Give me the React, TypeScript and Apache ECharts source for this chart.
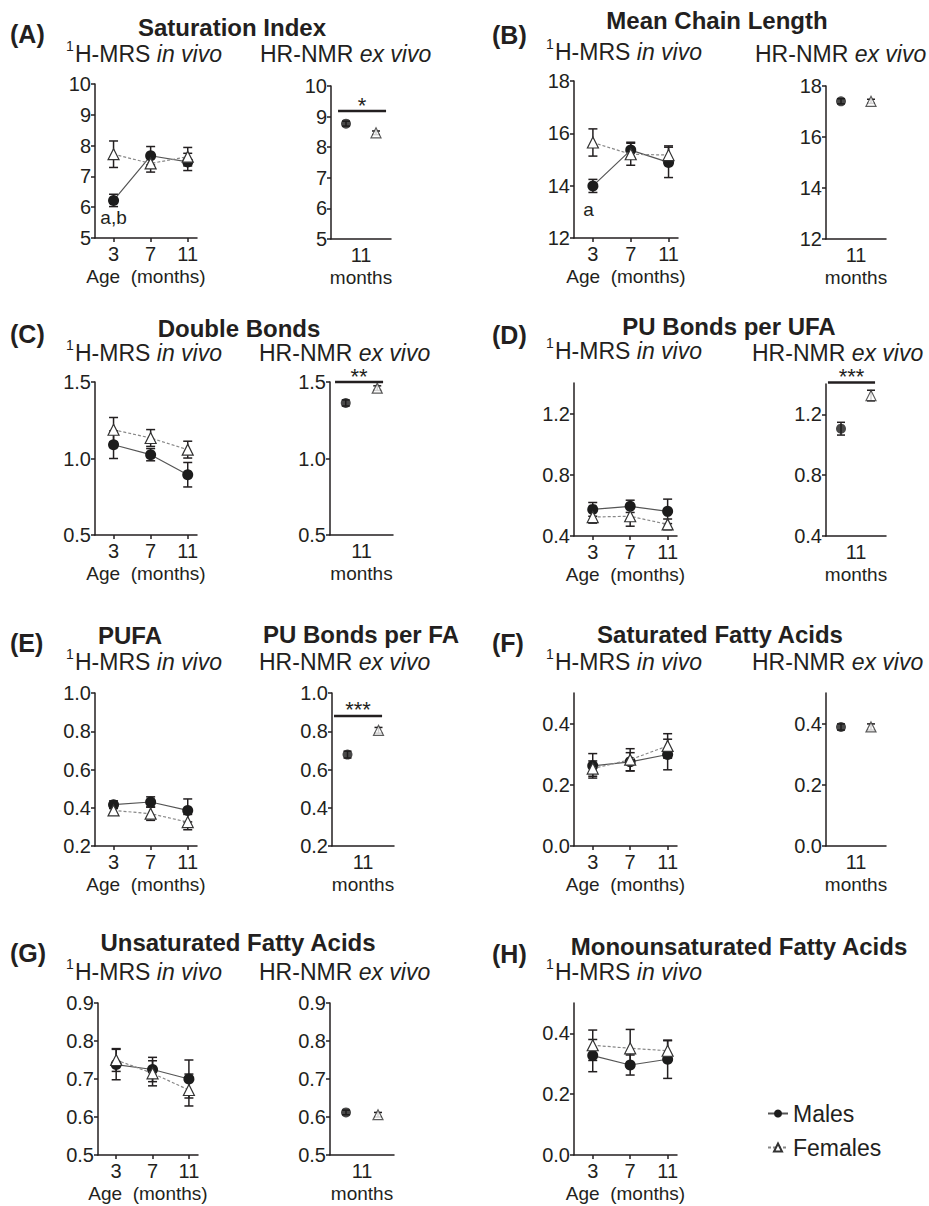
import React, { useEffect, useRef } from 'react';
import * as echarts from 'echarts';

const FONT = '"Liberation Sans", Arial, Helvetica, sans-serif';
const INK = '#231f20';

const AGES = [3, 7, 11];
const EX_X = [1, 3]; // males, females on the ex vivo axis (0..4)
const EX_LABEL = '11';

// (A) Saturation Index
const siMale = [6.22, 7.67, 7.47];
const siMaleErr = [0.2, 0.3, 0.28];
const siFemale = [7.72, 7.42, 7.64];
const siFemaleErr = [0.43, 0.28, 0.3];
const siEx = [8.77, 8.47];
const siExErr = [0.08, 0.06];
const siTicks = [5, 6, 7, 8, 9, 10];
const siSig = [0.47, 3.67, 9.18];

// (B) Mean Chain Length
const mclMale = [13.99, 15.36, 14.89];
const mclMaleErr = [0.25, 0.3, 0.58];
const mclFemale = [15.65, 15.2, 15.17];
const mclFemaleErr = [0.52, 0.42, 0.35];
const mclEx = [17.4, 17.4];
const mclExErr = [0.1, 0.08];
const mclTicks = [12, 14, 16, 18];

// (C) Double Bonds
const dbMale = [1.09, 1.025, 0.894];
const dbMaleErr = [0.09, 0.04, 0.08];
const dbFemale = [1.188, 1.134, 1.058];
const dbFemaleErr = [0.08, 0.055, 0.055];
const dbEx = [1.363, 1.46];
const dbExErr = [0.02, 0.015];
const dbTicks = [0.5, 1.0, 1.5];
const dbSig = [0.32, 3.37, 1.5];

// (D) PU Bonds per UFA
const puUfaMale = [0.574, 0.594, 0.561];
const puUfaMaleErr = [0.045, 0.04, 0.08];
const puUfaFemale = [0.524, 0.529, 0.476];
const puUfaFemaleErr = [0.04, 0.065, 0.035];
const puUfaEx = [1.106, 1.324];
const puUfaExErr = [0.042, 0.035];
const puUfaTicks = [0.4, 0.8, 1.2];
const puUfaSig = [0.13, 3.27, 1.41];

// (E) PUFA (in vivo) / PU Bonds per FA (ex vivo)
const pufaMale = [0.416, 0.43, 0.386];
const pufaMaleErr = [0.02, 0.027, 0.06];
const pufaFemale = [0.386, 0.369, 0.325];
const pufaFemaleErr = [0.025, 0.035, 0.04];
const puFaEx = [0.678, 0.805];
const puFaExErr = [0.018, 0.015];
const pufaTicks = [0.2, 0.4, 0.6, 0.8, 1.0];
const puFaSig = [0.13, 3.23, 0.88];

// (F) Saturated Fatty Acids
const sfaMale = [0.262, 0.275, 0.299];
const sfaMaleErr = [0.04, 0.03, 0.05];
const sfaFemale = [0.253, 0.282, 0.327];
const sfaFemaleErr = [0.025, 0.036, 0.04];
const sfaEx = [0.389, 0.389];
const sfaExErr = [0.01, 0.01];
const sfaTicks = [0.0, 0.2, 0.4];

// (G) Unsaturated Fatty Acids
const ufaMale = [0.738, 0.725, 0.7];
const ufaMaleErr = [0.04, 0.032, 0.05];
const ufaFemale = [0.75, 0.715, 0.671];
const ufaFemaleErr = [0.03, 0.033, 0.042];
const ufaEx = [0.612, 0.606];
const ufaExErr = [0.006, 0.006];
const ufaTicks = [0.5, 0.6, 0.7, 0.8, 0.9];

// (H) Monounsaturated Fatty Acids
const mufaMale = [0.327, 0.296, 0.315];
const mufaMaleErr = [0.053, 0.033, 0.063];
const mufaFemale = [0.361, 0.351, 0.343];
const mufaFemaleErr = [0.05, 0.062, 0.033];
const mufaTicks = [0.0, 0.2, 0.4];

type Panel = {
  vivo: number[];
  ex?: number[];
  y: [number, number];
  ticks: number[];
  dec: number;
  male: number[]; maleErr: number[];
  female: number[]; femaleErr: number[];
  exV?: number[]; exE?: number[];
  sig?: number[]; stars?: string;
  notes?: { x: number; y: number; text: string }[];
};

function errBarRender(cap: number) {
  return (params: any, api: any) => {
    const x = api.value(0), y = api.value(1), e = api.value(2);
    const t = api.coord([x, y + e]);
    const b = api.coord([x, y - e]);
    const st = { stroke: INK, lineWidth: 1.5 };
    return {
      type: 'group',
      children: [
        { type: 'line', shape: { x1: t[0], y1: t[1], x2: b[0], y2: b[1] }, style: st },
        { type: 'line', shape: { x1: t[0] - cap, y1: t[1], x2: t[0] + cap, y2: t[1] }, style: st },
        { type: 'line', shape: { x1: b[0] - cap, y1: b[1], x2: b[0] + cap, y2: b[1] }, style: st },
      ],
    };
  };
}

function sigRender(stars: string) {
  return (params: any, api: any) => {
    const a = api.coord([api.value(0), api.value(2)]);
    const b = api.coord([api.value(1), api.value(2)]);
    return {
      type: 'group',
      children: [
        { type: 'line', shape: { x1: a[0], y1: a[1], x2: b[0], y2: b[1] }, style: { stroke: INK, lineWidth: 2.5 } },
        {
          type: 'text', x: (a[0] + b[0]) / 2, y: a[1] - 6,
          style: { text: stars, fontSize: 22, fontFamily: FONT, fill: INK, align: 'center', verticalAlign: 'middle' },
        },
      ],
    };
  };
}

function noteRender(texts: string[]) {
  return (params: any, api: any) => {
    const p = api.coord([api.value(0), api.value(1)]);
    return {
      type: 'text', x: p[0], y: p[1],
      style: { text: texts[params.dataIndex], fontSize: 19, fontFamily: FONT, fill: INK, align: 'center', verticalAlign: 'middle' },
    };
  };
}

function buildOption() {
  const panels: Panel[] = [
    { vivo: [95, 84, 102, 154], ex: [331, 86, 60, 153], y: [5, 10], ticks: siTicks, dec: 0,
      male: siMale, maleErr: siMaleErr, female: siFemale, femaleErr: siFemaleErr, exV: siEx, exE: siExErr,
      sig: siSig, stars: '*', notes: [{ x: 3, y: 5.65, text: 'a,b' }] },
    { vivo: [574, 81, 104, 157], ex: [826, 86, 60, 153], y: [12, 18], ticks: mclTicks, dec: 0,
      male: mclMale, maleErr: mclMaleErr, female: mclFemale, femaleErr: mclFemaleErr, exV: mclEx, exE: mclExErr,
      notes: [{ x: 2.55, y: 13.1, text: 'a' }] },
    { vivo: [95, 382, 102, 153], ex: [330, 382, 63, 153], y: [0.5, 1.5], ticks: dbTicks, dec: 1,
      male: dbMale, maleErr: dbMaleErr, female: dbFemale, femaleErr: dbFemaleErr, exV: dbEx, exE: dbExErr,
      sig: dbSig, stars: '**' },
    { vivo: [574, 383, 103, 153], ex: [826, 384, 60, 152], y: [0.4, 1.4], ticks: puUfaTicks, dec: 1,
      male: puUfaMale, maleErr: puUfaMaleErr, female: puUfaFemale, femaleErr: puUfaFemaleErr, exV: puUfaEx, exE: puUfaExErr,
      sig: puUfaSig, stars: '***' },
    { vivo: [95, 693, 102, 153], ex: [332, 693, 62, 153], y: [0.2, 1.0], ticks: pufaTicks, dec: 1,
      male: pufaMale, maleErr: pufaMaleErr, female: pufaFemale, femaleErr: pufaFemaleErr, exV: puFaEx, exE: puFaExErr,
      sig: puFaSig, stars: '***' },
    { vivo: [574, 693, 103, 153], ex: [826, 693, 60, 153], y: [0, 0.5], ticks: sfaTicks, dec: 1,
      male: sfaMale, maleErr: sfaMaleErr, female: sfaFemale, femaleErr: sfaFemaleErr, exV: sfaEx, exE: sfaExErr },
    { vivo: [98, 1003, 100, 152], ex: [330, 1003, 64, 152], y: [0.5, 0.9], ticks: ufaTicks, dec: 1,
      male: ufaMale, maleErr: ufaMaleErr, female: ufaFemale, femaleErr: ufaFemaleErr, exV: ufaEx, exE: ufaExErr },
    { vivo: [574, 1003, 103, 152], y: [0, 0.5], ticks: mufaTicks, dec: 1,
      male: mufaMale, maleErr: mufaMaleErr, female: mufaFemale, femaleErr: mufaFemaleErr },
  ];

  const grid: any[] = [];
  const xAxis: any[] = [];
  const yAxis: any[] = [];
  const series: any[] = [];
  const lineStyle = { color: INK, width: 1.5 };
  const labelBase = { color: INK, fontFamily: FONT };

  const mkY = (gi: number, p: Panel) => ({
    type: 'value', gridIndex: gi, min: p.y[0], max: p.y[1],
    splitLine: { show: false },
    axisLine: { show: true, onZero: false, lineStyle },
    axisTick: { show: true, length: 4, lineStyle, customValues: p.ticks },
    axisLabel: { ...labelBase, fontSize: 20, margin: 4, customValues: p.ticks,
      formatter: (v: number) => v.toFixed(p.dec) },
  });

  const ordered: any[] = [];
  const later: any[] = [];

  panels.forEach((p) => {
    // in vivo
    const gi = grid.length;
    grid.push({ left: p.vivo[0], top: p.vivo[1], width: p.vivo[2], height: p.vivo[3], containLabel: false });
    xAxis.push({
      type: 'value', gridIndex: gi, min: 1, max: 12,
      splitLine: { show: false },
      axisLine: { show: true, onZero: false, lineStyle },
      axisTick: { show: true, length: 4, lineStyle, customValues: AGES },
      axisLabel: { ...labelBase, fontSize: 20, margin: 6, customValues: AGES, formatter: (v: number) => String(v) },
      name: 'Age  (months)', nameLocation: 'middle', nameGap: 29,
      nameTextStyle: { ...labelBase, fontSize: 19 },
    });
    yAxis.push(mkY(gi, p));
    series.push({
      type: 'custom', xAxisIndex: gi, yAxisIndex: gi, z: 1, renderItem: errBarRender(4.5),
      encode: { x: 0, y: 1 },
      data: AGES.map((a, i) => [a, p.male[i], p.maleErr[i]]),
    });
    series.push({
      type: 'custom', xAxisIndex: gi, yAxisIndex: gi, z: 1, renderItem: errBarRender(4.5),
      encode: { x: 0, y: 1 },
      data: AGES.map((a, i) => [a, p.female[i], p.femaleErr[i]]),
    });
    ordered.push({
      type: 'line', name: 'Males', xAxisIndex: gi, yAxisIndex: gi, z: 3,
      symbol: 'circle', symbolSize: 11,
      itemStyle: { color: '#1c1c1c' },
      lineStyle: { color: '#555', width: 1.2 },
      data: AGES.map((a, i) => [a, p.male[i]]),
    });
    ordered.push({
      type: 'line', name: 'Females', xAxisIndex: gi, yAxisIndex: gi, z: 4,
      symbol: 'triangle', symbolSize: 11,
      itemStyle: { color: '#ffffff', borderColor: '#333', borderWidth: 1.2 },
      lineStyle: { color: '#888', width: 1.2, type: [3, 2] },
      data: AGES.map((a, i) => [a, p.female[i]]),
    });
    if (p.notes) {
      later.push({
        type: 'custom', xAxisIndex: gi, yAxisIndex: gi, z: 5,
        renderItem: noteRender(p.notes.map((n) => n.text)),
        encode: { x: 0, y: 1 },
        data: p.notes.map((n) => [n.x, n.y]),
      });
    }

    // ex vivo
    if (p.ex && p.exV && p.exE) {
      const ge = grid.length;
      grid.push({ left: p.ex[0], top: p.ex[1], width: p.ex[2], height: p.ex[3], containLabel: false });
      xAxis.push({
        type: 'value', gridIndex: ge, min: 0, max: 4,
        splitLine: { show: false },
        axisLine: { show: true, onZero: false, lineStyle },
        axisTick: { show: false },
        axisLabel: { ...labelBase, fontSize: 20, margin: 6, customValues: [2], formatter: () => EX_LABEL },
        name: 'months', nameLocation: 'middle', nameGap: 29,
        nameTextStyle: { ...labelBase, fontSize: 19 },
      });
      yAxis.push(mkY(ge, p));
      const exV = p.exV, exE = p.exE;
      series.push({
        type: 'custom', xAxisIndex: ge, yAxisIndex: ge, z: 1, renderItem: errBarRender(4),
        encode: { x: 0, y: 1 },
        data: EX_X.map((x, i) => [x, exV[i], exE[i]]),
      });
      later.push({
        type: 'scatter', name: 'Males ex vivo', xAxisIndex: ge, yAxisIndex: ge, z: 3,
        symbol: 'circle', symbolSize: 10, itemStyle: { color: '#1c1c1c' },
        data: [[EX_X[0], exV[0]]],
      });
      later.push({
        type: 'scatter', name: 'Females ex vivo', xAxisIndex: ge, yAxisIndex: ge, z: 4,
        symbol: 'triangle', symbolSize: 10,
        itemStyle: { color: '#ffffff', borderColor: '#333', borderWidth: 1.2 },
        data: [[EX_X[1], exV[1]]],
      });
      if (p.sig && p.stars) {
        later.push({
          type: 'custom', xAxisIndex: ge, yAxisIndex: ge, z: 5, renderItem: sigRender(p.stars),
          encode: { x: [0, 1], y: 2 }, clip: false,
          data: [p.sig],
        });
      }
    }
  });

  const txt = (x: number, y: number, text: string, size: number, align = 'left', bold = false) => ({
    type: 'text', x, y,
    style: { text, fontSize: size, fontFamily: FONT, fontWeight: bold ? 'bold' : 'normal', fill: INK, align, verticalAlign: 'middle' },
  });
  const sub = (x: number, y: number, main: string, ital: string) => [
    { type: 'text', x, y: y - 8, style: { text: '1', fontSize: 14, fontFamily: FONT, fill: INK, align: 'left', verticalAlign: 'middle' } },
    {
      type: 'text', x: x + 9, y,
      style: {
        text: `{n|${main} }{i|${ital}}`, fontFamily: FONT, fill: INK, align: 'left', verticalAlign: 'middle',
        rich: { n: { fontSize: 23, fontFamily: FONT, fill: INK }, i: { fontSize: 23, fontFamily: FONT, fontStyle: 'italic', fill: INK } },
      },
    },
  ];
  const sub2 = (x: number, y: number) => ({
    type: 'text', x, y,
    style: {
      text: '{n|HR-NMR }{i|ex vivo}', fontFamily: FONT, fill: INK, align: 'left', verticalAlign: 'middle',
      rich: { n: { fontSize: 23, fontFamily: FONT, fill: INK }, i: { fontSize: 23, fontFamily: FONT, fontStyle: 'italic', fill: INK } },
    },
  });

  const graphic: any[] = [
    txt(10, 34, '(A)', 25, 'left', true), txt(232, 27, 'Saturation Index', 24, 'center', true),
    ...sub(66, 54, 'H-MRS', 'in vivo'), sub2(260, 54),
    txt(492, 35, '(B)', 25, 'left', true), txt(717, 20, 'Mean Chain Length', 24, 'center', true),
    ...sub(546, 52, 'H-MRS', 'in vivo'), sub2(755, 54),
    txt(10, 334, '(C)', 25, 'left', true), txt(239, 328, 'Double Bonds', 24, 'center', true),
    ...sub(66, 353, 'H-MRS', 'in vivo'), sub2(259, 353),
    txt(492, 335, '(D)', 25, 'left', true), txt(729, 326, 'PU Bonds per UFA', 24, 'center', true),
    ...sub(546, 351, 'H-MRS', 'in vivo'), sub2(752, 353),
    txt(10, 643, '(E)', 25, 'left', true), txt(130, 635, 'PUFA', 24, 'center', true),
    txt(361, 634, 'PU Bonds per FA', 24, 'center', true),
    ...sub(66, 662, 'H-MRS', 'in vivo'), sub2(259, 662),
    txt(492, 643, '(F)', 25, 'left', true), txt(720, 634, 'Saturated Fatty Acids', 24, 'center', true),
    ...sub(546, 662, 'H-MRS', 'in vivo'), sub2(752, 662),
    txt(10, 953, '(G)', 25, 'left', true), txt(238, 942, 'Unsaturated Fatty Acids', 24, 'center', true),
    ...sub(66, 972, 'H-MRS', 'in vivo'), sub2(259, 972),
    txt(492, 954, '(H)', 25, 'left', true), txt(739, 946, 'Monounsaturated Fatty Acids', 24, 'center', true),
    ...sub(546, 972, 'H-MRS', 'in vivo'),
  ];

  return {
    animation: false,
    backgroundColor: '#ffffff',
    textStyle: { fontFamily: FONT },
    grid, xAxis, yAxis,
    legend: {
      data: ['Males', 'Females'], orient: 'vertical', left: 762, top: 1097,
      itemWidth: 20, itemHeight: 10, itemGap: 11, selectedMode: false,
      textStyle: { fontSize: 23, color: INK, fontFamily: FONT },
    },
    graphic,
    series: [...series, ...ordered, ...later],
  };
}

export default function App() {
  const ref = useRef<HTMLDivElement>(null);
  useEffect(() => {
    if (!ref.current) return;
    const chart = echarts.init(ref.current, undefined, { renderer: 'svg' });
    chart.setOption(buildOption() as any);
    return () => chart.dispose();
  }, []);
  return (
    <div
      ref={ref}
      style={{ position: 'absolute', left: 0, top: 0, width: 929, height: 1206, background: '#fff' }}
    />
  );
}
